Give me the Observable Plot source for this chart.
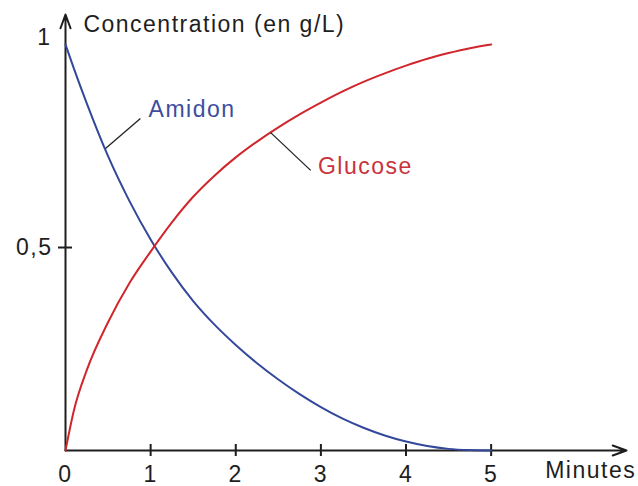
<!DOCTYPE html>
<html>
<head>
<meta charset="utf-8">
<script src="https://cdn.jsdelivr.net/npm/d3@7"></script>
<script src="https://cdn.jsdelivr.net/npm/@observablehq/plot@0.6"></script>
<style>
  html, body { margin: 0; padding: 0; background: #fff; }
</style>
</head>
<body>
<script>
// Time in minutes
const times = [0, 0.1, 0.25, 0.5, 0.75, 1, 1.25, 1.5, 1.75, 2, 2.25, 2.5, 2.75, 3, 3.25, 3.5, 3.75, 4, 4.25, 4.5, 4.75, 5];
// Concentration of starch (Amidon), g/L
const amidon = [1.0, 0.94, 0.855, 0.725, 0.615, 0.52, 0.438, 0.368, 0.31, 0.26, 0.215, 0.175, 0.139, 0.107, 0.079, 0.056, 0.037, 0.022, 0.011, 0.004, 0.001, 0];
// Concentration of glucose, g/L
const glucose = [0, 0.1, 0.198, 0.316, 0.412, 0.49, 0.562, 0.625, 0.677, 0.722, 0.761, 0.796, 0.828, 0.857, 0.884, 0.908, 0.929, 0.948, 0.965, 0.979, 0.991, 1.0];

const xTickValues = [0, 1, 2, 3, 4, 5];
const yTickValues = [0.5, 1];
const yTickLabels = ["0,5", "1"];
const xAxisEnd = 6.59;
const yAxisEnd = 1.074;

const yTitle = "Concentration (en g/L)";
const xTitle = "Minutes";
const seriesNames = ["Amidon", "Glucose"];
const seriesColors = ["#34489b", "#d0262c"];
const labelColors = ["#3d4d9f", "#c9323a"];
// label anchor positions (data units) and leader lines
const labelX = [0.976, 2.965];
const labelY = [0.84, 0.70];
const leaderFrom = [[0.47, 0.744], [2.41, 0.783]];
const leaderTo = [[0.88, 0.818], [2.88, 0.69]];

const amidonData = times.map((t, i) => ({t, c: amidon[i]}));
const glucoseData = times.map((t, i) => ({t, c: glucose[i]}));
const seriesLabels = seriesNames.map((name, i) => ({name, x: labelX[i], y: labelY[i], color: labelColors[i]}));
const leaders = leaderFrom.map((f, i) => ({x1: f[0], y1: f[1], x2: leaderTo[i][0], y2: leaderTo[i][1]}));
const axisLines = [
  {x1: 0, y1: 0, x2: xAxisEnd, y2: 0},
  {x1: 0, y1: 0, x2: 0, y2: yAxisEnd}
];
const titles = [
  {text: yTitle, x: 0.21, y: 1.049},
  {text: xTitle, x: 5.635, y: -0.05}
];
const yFmt = v => yTickLabels[yTickValues.indexOf(v)];

const chart = Plot.plot({
  width: 638,
  height: 486,
  marginLeft: 65,
  marginRight: 12,
  marginTop: 14,
  marginBottom: 36,
  style: {
    fontFamily: "'Liberation Sans', Arial, sans-serif",
    fontSize: "23px",
    letterSpacing: "1.5px",
    color: "#1e1e1e",
    background: "#fff"
  },
  x: {domain: [0, xAxisEnd]},
  y: {domain: [0, yAxisEnd]},
  marks: [
    Plot.arrow(axisLines, {x1: "x1", y1: "y1", x2: "x2", y2: "y2", stroke: "#1e1e1e", strokeWidth: 2, headLength: 11, headAngle: 40}),
    // x ticks (crossing the axis)
    Plot.axisX({ticks: xTickValues.slice(1), tickSize: 6, text: null, label: null, stroke: "#1e1e1e", strokeWidth: 2}),
    Plot.axisX({ticks: xTickValues.slice(1), tickSize: -6, text: null, label: null, stroke: "#1e1e1e", strokeWidth: 2}),
    Plot.axisX({ticks: xTickValues, tickSize: 0, tickPadding: 15, tickFormat: d => String(d), label: null, fill: "#1e1e1e"}),
    // y ticks
    Plot.axisY({ticks: [0.5], tickSize: 7, tickPadding: 6, tickFormat: yFmt, label: null, stroke: "#1e1e1e", strokeWidth: 2, fill: "#1e1e1e"}),
    Plot.axisY({ticks: [0.5], tickSize: -7, text: null, label: null, stroke: "#1e1e1e", strokeWidth: 2}),
    Plot.axisY({ticks: [1], tickSize: 0, tickPadding: 14, tickFormat: yFmt, label: null, dy: -7, fill: "#1e1e1e"}),
    // curves
    Plot.line(amidonData, {x: "t", y: "c", stroke: seriesColors[0], strokeWidth: 2, curve: "monotone-x"}),
    Plot.line(glucoseData, {x: "t", y: "c", stroke: seriesColors[1], strokeWidth: 2, curve: "monotone-x"}),
    // leaders and labels
    Plot.link(leaders, {x1: "x1", y1: "y1", x2: "x2", y2: "y2", stroke: "#222", strokeWidth: 1.3}),
    Plot.text(seriesLabels, {x: "x", y: "y", text: "name", fill: "color", textAnchor: "start"}),
    Plot.text(titles, {x: "x", y: "y", text: "text", fill: "#1e1e1e", textAnchor: "start"})
  ]
});
document.body.appendChild(chart);
</script>
</body>
</html>
